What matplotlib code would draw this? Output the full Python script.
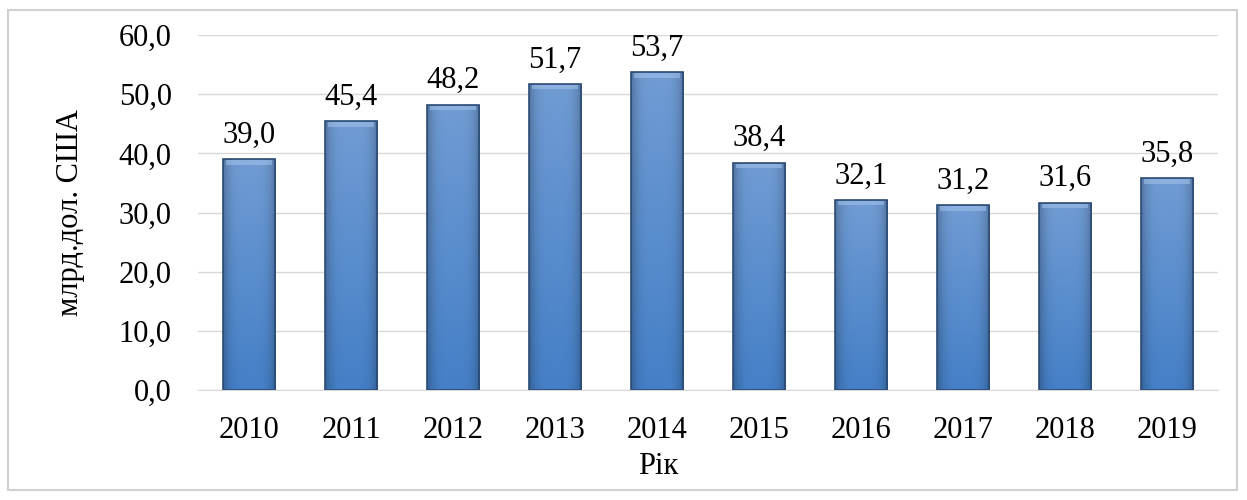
import matplotlib.pyplot as plt
import numpy as np
from matplotlib.patches import Rectangle

# Data
years = ['2010', '2011', '2012', '2013', '2014', '2015', '2016', '2017', '2018', '2019']
values = [39.0, 45.4, 48.2, 51.7, 53.7, 38.4, 32.1, 31.2, 31.6, 35.8]
y_ticks = [0, 10, 20, 30, 40, 50, 60]

plt.rcParams['font.family'] = ['Liberation Serif', 'DejaVu Serif']
FS = 22

fig = plt.figure(figsize=(12.47, 5.0), dpi=100)
ax = fig.add_axes([0.1588, 0.22, 0.8179, 0.71])

# outer frame
fig.patches.append(Rectangle((8 / 1247, 10 / 500), 1229 / 1247, 480 / 500,
                             transform=fig.transFigure, fill=False,
                             edgecolor='#d0d0d0', linewidth=1.5))

x = np.arange(len(years))
width = 0.51

# gradient fill for bars: lighter at top, darker at the side edges
h, w = 64, 64
cx = np.linspace(-1, 1, w)
edge_dark = 1 - 0.25 * np.abs(cx) ** 4
top = np.array([0.44, 0.61, 0.83])
bottom = np.array([0.27, 0.50, 0.78])
t = np.linspace(0, 1, h)[:, None, None]
grad = (top * (1 - t) + bottom * t) * edge_dark[None, :, None]

bars = ax.bar(x, values, width, color='none', edgecolor='#2b4a73', linewidth=1.2, zorder=3)
for b in bars:
    x0, y0 = b.get_x(), b.get_y()
    bw, bh = b.get_width(), b.get_height()
    im = ax.imshow(grad, extent=[x0, x0 + bw, y0, y0 + bh], origin='upper',
                   aspect='auto', zorder=2, interpolation='bilinear')
    im.set_clip_path(b)
    # soft bevel highlight at the top
    ax.add_patch(Rectangle((x0 + bw * 0.06, y0 + bh - 0.9), bw * 0.88, 0.75,
                           color='#a4c4ec', alpha=0.55, zorder=2.5, linewidth=0))

for xi, v in zip(x, values):
    ax.annotate(f'{v:.1f}'.replace('.', ','), (xi, v), xytext=(0, 7),
                textcoords='offset points', ha='center', va='bottom', fontsize=FS)

ax.set_xlim(-0.5, len(years) - 0.5)
ax.set_ylim(0, 60)
ax.set_yticks(y_ticks)
ax.set_yticklabels([f'{t:.1f}'.replace('.', ',') for t in y_ticks], fontsize=FS)
ax.set_xticks(x)
ax.set_xticklabels(years, fontsize=FS)
ax.tick_params(length=0)
ax.tick_params(axis='y', pad=19)
ax.tick_params(axis='x', pad=19)

ax.grid(axis='y', color='#d9d9d9', linewidth=1, zorder=0)
ax.set_axisbelow(True)
for s in ['top', 'right', 'left']:
    ax.spines[s].set_visible(False)
ax.spines['bottom'].set_color('#d9d9d9')

ax.set_ylabel('млрд.дол. США', fontsize=FS, labelpad=24)
ax.set_xlabel('Рік', fontsize=FS, labelpad=5)
ax.xaxis.label.set_x(0.451)

fig.savefig('out.png', dpi=100)
